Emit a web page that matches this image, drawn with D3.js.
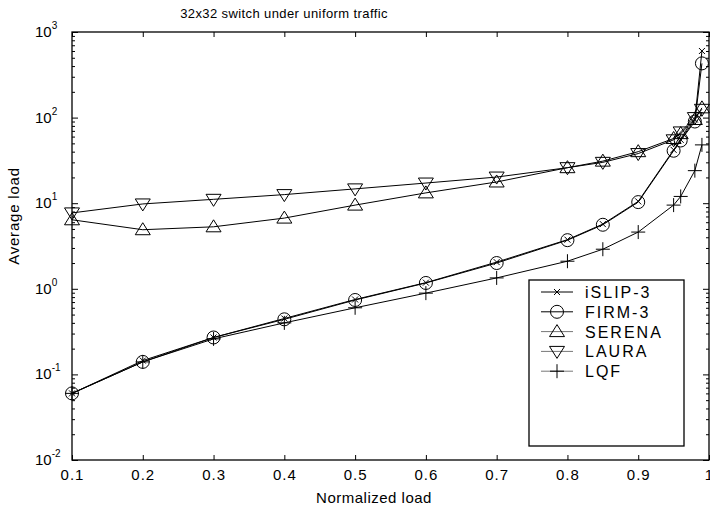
<!DOCTYPE html>
<html>
<head>
<meta charset="utf-8">
<script src="https://cdn.jsdelivr.net/npm/d3@7"></script>
<style>
  body { margin: 0; background: #fff; }
  svg { font-family: "Liberation Sans", Arial, sans-serif; }
  .tick text { fill: #000; }
  .tick line { stroke: #000; }
</style>
</head>
<body>
<div id="chart"></div>
<script>
// offered load points
var loads = [0.1, 0.2, 0.3, 0.4, 0.5, 0.6, 0.7, 0.8, 0.85, 0.9, 0.95, 0.96, 0.98, 0.99];

var islip  = [0.06, 0.145, 0.27, 0.45, 0.75, 1.18, 2.05, 3.75, 5.7, 10.5, 42, 55, 95, 600];
var firm   = [0.06, 0.14, 0.27, 0.44, 0.74, 1.17, 2.0, 3.7, 5.6, 10.3, 41, 54, 90, 430];
var serena = [6.4, 4.9, 5.3, 6.7, 9.5, 13.2, 17.7, 26, 31, 40, 57, 65, 95, 130];
var laura  = [7.7, 9.8, 11.1, 12.6, 14.7, 17.2, 20.2, 26, 30, 38, 55, 68, 100, 125];
var lqf    = [0.06, 0.14, 0.26, 0.40, 0.60, 0.89, 1.34, 2.1, 2.9, 4.6, 9.5, 12, 24, 48];

var seriesNames = ["iSLIP-3", "FIRM-3", "SERENA", "LAURA", "LQF"];
var seriesValues = [islip, firm, serena, laura, lqf];
var markers = ["x", "circle", "up", "down", "plus"];

var xTicks = [0.1, 0.2, 0.3, 0.4, 0.5, 0.6, 0.7, 0.8, 0.9, 1.0];
var decades = [-2, -1, 0, 1, 2, 3];

var width = 710, height = 512;
var plotL = 72, plotR = 709, plotT = 32, plotB = 460;

var svg = d3.select("#chart").append("svg")
  .attr("width", width)
  .attr("height", height);

var x = d3.scaleLinear().domain([0.1, 1]).range([plotL, plotR]);
var y = d3.scaleLog().domain([0.01, 1000]).range([plotB, plotT]);

var majorY = decades.map(function(d) { return Math.pow(10, d); });
var minorY = [];
decades.slice(0, -1).forEach(function(d) {
  for (var k = 2; k <= 9; k++) minorY.push(k * Math.pow(10, d));
});

// x axes (bottom with labels, top ticks only)
var xb = svg.append("g")
  .attr("transform", "translate(0," + plotB + ")")
  .call(d3.axisBottom(x).tickValues(xTicks).tickSizeInner(-5).tickSizeOuter(0).tickPadding(9)
    .tickFormat(function(d) { return d === 1 ? "1" : d3.format(".1f")(d); }));
xb.select(".domain").remove();
xb.selectAll("text").style("font-size", "15px").style("letter-spacing", "1px");

var xt = svg.append("g")
  .attr("transform", "translate(0," + plotT + ")")
  .call(d3.axisTop(x).tickValues(xTicks).tickSizeInner(-5).tickSizeOuter(0).tickFormat(""));
xt.select(".domain").remove();

// y axes
var yl = svg.append("g")
  .attr("transform", "translate(" + plotL + ",0)")
  .call(d3.axisLeft(y).tickValues(majorY).tickSizeInner(-6).tickSizeOuter(0).tickFormat(""));
yl.select(".domain").remove();
var ylm = svg.append("g")
  .attr("transform", "translate(" + plotL + ",0)")
  .call(d3.axisLeft(y).tickValues(minorY).tickSizeInner(-3).tickSizeOuter(0).tickFormat(""));
ylm.select(".domain").remove();

var yr = svg.append("g")
  .attr("transform", "translate(" + plotR + ",0)")
  .call(d3.axisRight(y).tickValues(majorY).tickSizeInner(-6).tickSizeOuter(0).tickFormat(""));
yr.select(".domain").remove();
var yrm = svg.append("g")
  .attr("transform", "translate(" + plotR + ",0)")
  .call(d3.axisRight(y).tickValues(minorY).tickSizeInner(-3).tickSizeOuter(0).tickFormat(""));
yrm.select(".domain").remove();

// y tick labels as 10^n
decades.forEach(function(d) {
  var t = svg.append("text")
    .attr("x", 35)
    .attr("y", y(Math.pow(10, d)) + 5)
    .style("font-size", "15px");
  t.append("tspan").text("10");
  t.append("tspan").attr("dy", -8).style("font-size", "10px").text(d);
});

// plot box
svg.append("rect")
  .attr("x", plotL).attr("y", plotT)
  .attr("width", plotR - plotL).attr("height", plotB - plotT)
  .attr("fill", "none").attr("stroke", "#000").attr("stroke-width", 1.3);

function drawMarker(g, type, cx, cy) {
  var p;
  if (type === "x") {
    p = "M" + (cx - 3) + "," + (cy - 3) + "L" + (cx + 3) + "," + (cy + 3) +
        "M" + (cx - 3) + "," + (cy + 3) + "L" + (cx + 3) + "," + (cy - 3);
    g.append("path").attr("d", p).attr("stroke", "#000").attr("fill", "none");
  } else if (type === "circle") {
    g.append("circle").attr("cx", cx).attr("cy", cy).attr("r", 6.5)
      .attr("stroke", "#000").attr("fill", "none");
  } else if (type === "up") {
    p = "M" + cx + "," + (cy - 7) + "L" + (cx + 7.5) + "," + (cy + 5) + "L" + (cx - 7.5) + "," + (cy + 5) + "Z";
    g.append("path").attr("d", p).attr("stroke", "#000").attr("fill", "none");
  } else if (type === "down") {
    p = "M" + cx + "," + (cy + 7) + "L" + (cx + 7.5) + "," + (cy - 5) + "L" + (cx - 7.5) + "," + (cy - 5) + "Z";
    g.append("path").attr("d", p).attr("stroke", "#000").attr("fill", "none");
  } else if (type === "plus") {
    p = "M" + (cx - 7) + "," + cy + "L" + (cx + 7) + "," + cy +
        "M" + cx + "," + (cy - 7) + "L" + cx + "," + (cy + 7);
    g.append("path").attr("d", p).attr("stroke", "#000").attr("fill", "none");
  }
}

var line = d3.line()
  .x(function(d) { return x(d[0]); })
  .y(function(d) { return y(d[1]); });

seriesValues.forEach(function(vals, i) {
  var pts = loads.map(function(l, j) { return [l, vals[j]]; });
  var g = svg.append("g").attr("class", "series");
  g.append("path")
    .attr("d", line(pts))
    .attr("fill", "none")
    .attr("stroke", "#000")
    .attr("stroke-width", 1);
  pts.forEach(function(p) {
    drawMarker(g, markers[i], x(p[0]), y(p[1]));
  });
});

// legend
var legend = svg.append("g").attr("class", "legend");
legend.append("rect")
  .attr("x", 529).attr("y", 280).attr("width", 155).attr("height", 166)
  .attr("fill", "#fff").attr("stroke", "#000").attr("stroke-width", 1.3);
seriesNames.forEach(function(name, i) {
  var ly = 292 + i * 19.8;
  legend.append("line")
    .attr("x1", 541).attr("x2", 573).attr("y1", ly).attr("y2", ly)
    .attr("stroke", i < 2 ? "#000" : "#777");
  drawMarker(legend, markers[i], 557, ly);
  legend.append("text")
    .attr("x", 585).attr("y", ly + 6)
    .style("font-size", "16px").style("letter-spacing", "2px")
    .text(name);
});

// titles
svg.append("text")
  .attr("x", 284).attr("y", 18)
  .attr("text-anchor", "middle")
  .style("font-size", "13px").style("letter-spacing", "0.4px")
  .text("32x32 switch under uniform traffic");

svg.append("text")
  .attr("x", 374).attr("y", 503)
  .attr("text-anchor", "middle")
  .style("font-size", "15px").style("letter-spacing", "0.5px")
  .text("Normalized load");

svg.append("text")
  .attr("transform", "translate(19,216) rotate(-90)")
  .attr("text-anchor", "middle")
  .style("font-size", "15px").style("letter-spacing", "0.8px")
  .text("Average load");
</script>
</body>
</html>
